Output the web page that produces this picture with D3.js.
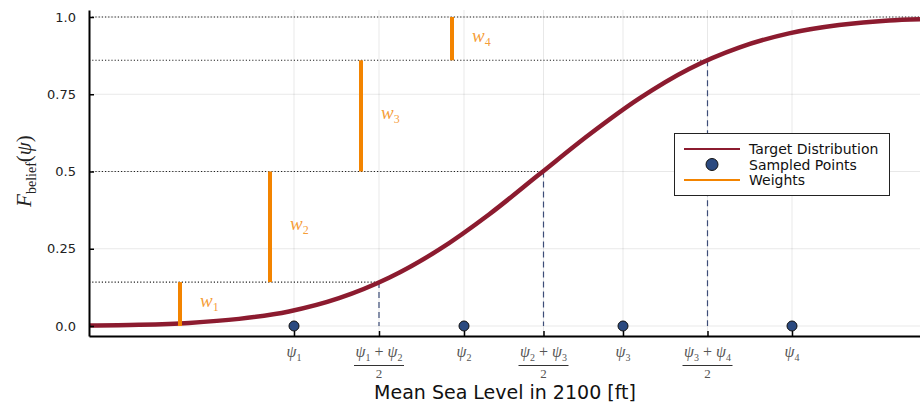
<!DOCTYPE html>
<html>
<head>
<meta charset="utf-8">
<script src="https://cdn.jsdelivr.net/npm/d3@7"></script>
<style>
  html, body { margin: 0; padding: 0; background: #fff; }
  svg { display: block; }
</style>
</head>
<body>
<svg id="chart" width="920" height="405"></svg>
<script>
// ---------------- DATA ----------------
// Target CDF (x in axis units, F value)
const curveX = [0, 0.5, 1.0, 1.5, 2.0, 2.5, 3.0, 3.5, 4.0, 4.5, 5.0, 5.5, 6.0, 6.5, 7.0, 7.5, 8.0, 8.31];
const curveF = [0.0014, 0.004, 0.010, 0.023, 0.047, 0.090, 0.156, 0.247, 0.361, 0.490, 0.619, 0.736, 0.832, 0.901, 0.947, 0.974, 0.989, 0.993];

// Sampled points psi_1..psi_4
const samplePsi = [2.05, 3.75, 5.34, 7.03];
const sampleLabels = ["1", "2", "3", "4"];

// Midpoints between samples and CDF value there
const midX = [2.90, 4.545, 6.185];
const midF = [0.142, 0.5, 0.86];
const midLabels = [["1", "2"], ["2", "3"], ["3", "4"]];

// Weights bars
const weightX = [0.91, 1.81, 2.72, 3.63];
const weightLo = [0, 0.142, 0.5, 0.86];
const weightHi = [0.142, 0.5, 0.86, 1.0];
const weightLabels = ["1", "2", "3", "4"];

// y ticks
const yTicks = [0, 0.25, 0.5, 0.75, 1.0];
const yTickLabels = ["0.0", "0.25", "0.5", "0.75", "1.0"];

const legendItems = ["Target Distribution", "Sampled Points", "Weights"];

// ---------------- STYLE ----------------
const RED = "#8c1b2f", ORANGE = "#f38400", BLUE = "#2b4a80", DASH = "#3d4d78";
const MATH = "'Liberation Serif', 'DejaVu Serif', serif";
const SANS = "'DejaVu Sans', sans-serif";

const svg = d3.select("#chart");
const x = d3.scaleLinear().domain([0, 8.31]).range([89, 920]);
const y = d3.scaleLinear().domain([-0.0324, 1.0227]).range([336, 10]);

// grid
const xTickVals = [samplePsi[0], midX[0], samplePsi[1], midX[1], samplePsi[2], midX[2], samplePsi[3]];
svg.append("g").selectAll("line").data(xTickVals).join("line")
  .attr("x1", d => x(d)).attr("x2", d => x(d)).attr("y1", 10).attr("y2", 336)
  .attr("stroke", "#000").attr("stroke-opacity", 0.09).attr("stroke-width", 1);
svg.append("g").selectAll("line").data(yTicks).join("line")
  .attr("x1", 89).attr("x2", 920).attr("y1", d => y(d)).attr("y2", d => y(d))
  .attr("stroke", "#000").attr("stroke-opacity", 0.09).attr("stroke-width", 1);

// dotted horizontals
const hLines = [
  {f: midF[0], x2: midX[0]}, {f: midF[1], x2: midX[1]}, {f: midF[2], x2: midX[2]}, {f: 1.0, x2: 8.31}
];
svg.append("g").selectAll("line").data(hLines).join("line")
  .attr("x1", 89).attr("x2", d => x(d.x2)).attr("y1", d => y(d.f)).attr("y2", d => y(d.f))
  .attr("stroke", "#222").attr("stroke-width", 1.1).attr("stroke-dasharray", "1.2,2");

// dashed verticals
svg.append("g").selectAll("line").data(midX).join("line")
  .attr("x1", d => x(d)).attr("x2", d => x(d)).attr("y1", (d, i) => y(midF[i])).attr("y2", y(0))
  .attr("stroke", DASH).attr("stroke-width", 1.2).attr("stroke-dasharray", "6,4");

// curve
const pts = curveX.map((v, i) => [v, curveF[i]]);
svg.append("path").datum(pts)
  .attr("d", d3.line().x(d => x(d[0])).y(d => y(d[1])).curve(d3.curveMonotoneX))
  .attr("fill", "none").attr("stroke", RED).attr("stroke-width", 4.5);

// weights
svg.append("g").selectAll("line").data(weightX).join("line")
  .attr("x1", d => x(d)).attr("x2", d => x(d))
  .attr("y1", (d, i) => y(weightLo[i])).attr("y2", (d, i) => y(weightHi[i]))
  .attr("stroke", ORANGE).attr("stroke-width", 4);
const wl = svg.append("g").selectAll("text").data(weightX).join("text")
  .attr("x", d => x(d) + 20).attr("y", (d, i) => y((weightLo[i] + weightHi[i]) / 2) + 3)
  .attr("font-family", MATH).attr("font-style", "italic").attr("font-size", 19)
  .attr("fill", ORANGE).attr("fill-opacity", 0.8);
wl.append("tspan").text("w");
wl.append("tspan").attr("dy", 4).attr("font-size", 12).attr("font-style", "normal").text((d, i) => weightLabels[i]);

// sampled points
svg.append("g").selectAll("circle").data(samplePsi).join("circle")
  .attr("cx", d => x(d)).attr("cy", y(0)).attr("r", 5)
  .attr("fill", BLUE).attr("stroke", "#111").attr("stroke-width", 1);

// axes
const yAxis = d3.axisLeft(y).tickValues(yTicks).tickSize(-5).tickSizeOuter(0).tickPadding(13)
  .tickFormat((d, i) => yTickLabels[i]);
const gy = svg.append("g").attr("transform", "translate(89,0)").call(yAxis);
gy.select(".domain").attr("stroke", "#000").attr("stroke-width", 2);
gy.selectAll(".tick line").attr("stroke", "#000").attr("stroke-width", 1.5);
gy.selectAll(".tick text").attr("font-family", SANS).attr("font-size", 13).attr("fill", "#222");

const xAxis = d3.axisBottom(x).tickValues(xTickVals).tickSize(-5).tickSizeOuter(0).tickFormat("");
const gx = svg.append("g").attr("transform", "translate(0,336)").call(xAxis);
gx.select(".domain").attr("stroke", "#000").attr("stroke-width", 2);
gx.selectAll(".tick line").attr("stroke", "#000").attr("stroke-width", 1.5);

// x tick labels (math)
const LBL = "#555";
function psi(g, cx, cy, sub) {
  const t = g.append("text").attr("x", cx).attr("y", cy).attr("text-anchor", "middle")
    .attr("font-family", MATH).attr("fill", LBL).attr("font-size", 16);
  t.append("tspan").attr("font-style", "italic").text("ψ");
  t.append("tspan").attr("dy", 4).attr("font-size", 10).text(sub);
  return t;
}
samplePsi.forEach((v, i) => psi(svg, x(v), 357, sampleLabels[i]));
midX.forEach((v, i) => {
  const cx = x(v);
  const t = svg.append("text").attr("x", cx).attr("y", 357).attr("text-anchor", "middle")
    .attr("font-family", MATH).attr("fill", LBL).attr("font-size", 16);
  t.append("tspan").attr("font-style", "italic").text("ψ");
  t.append("tspan").attr("dy", 4).attr("font-size", 10).text(midLabels[i][0]);
  t.append("tspan").attr("dy", -4).text(" + ");
  t.append("tspan").attr("font-style", "italic").text("ψ");
  t.append("tspan").attr("dy", 4).attr("font-size", 10).text(midLabels[i][1]);
  svg.append("line").attr("x1", cx - 25).attr("x2", cx + 25).attr("y1", 365.5).attr("y2", 365.5)
    .attr("stroke", "#333").attr("stroke-width", 1);
  svg.append("text").attr("x", cx).attr("y", 378).attr("text-anchor", "middle")
    .attr("font-family", MATH).attr("fill", LBL).attr("font-size", 13).text("2");
});

// axis titles
svg.append("text").attr("x", 505).attr("y", 399).attr("text-anchor", "middle")
  .attr("font-family", SANS).attr("font-size", 19).attr("fill", "#111")
  .text("Mean Sea Level in 2100 [ft]");
const yl = svg.append("text").attr("transform", "translate(31,171) rotate(-90)")
  .attr("text-anchor", "middle").attr("font-family", MATH).attr("font-size", 21).attr("fill", "#222");
yl.append("tspan").attr("font-style", "italic").text("F");
yl.append("tspan").attr("dy", 5).attr("font-size", 14).text("belief");
yl.append("tspan").attr("dy", -5).text("(");
yl.append("tspan").attr("font-style", "italic").text("ψ");
yl.append("tspan").text(")");

// legend
const lg = svg.append("g");
lg.append("rect").attr("x", 674.5).attr("y", 133.5).attr("width", 215).attr("height", 62)
  .attr("fill", "#fff").attr("stroke", "#222").attr("stroke-width", 1);
const ly = [149, 164.5, 180];
lg.append("line").attr("x1", 684).attr("x2", 740).attr("y1", ly[0]).attr("y2", ly[0]).attr("stroke", RED).attr("stroke-width", 2.2);
lg.append("circle").attr("cx", 712).attr("cy", ly[1]).attr("r", 6).attr("fill", BLUE).attr("stroke", "#111");
lg.append("line").attr("x1", 684).attr("x2", 740).attr("y1", ly[2]).attr("y2", ly[2]).attr("stroke", ORANGE).attr("stroke-width", 2.2);
lg.selectAll("text.leg").data(legendItems).join("text").attr("class", "leg")
  .attr("x", 749).attr("y", (d, i) => ly[i] + 5)
  .attr("font-family", SANS).attr("font-size", 14).attr("fill", "#111").text(d => d);
</script>
</body>
</html>
